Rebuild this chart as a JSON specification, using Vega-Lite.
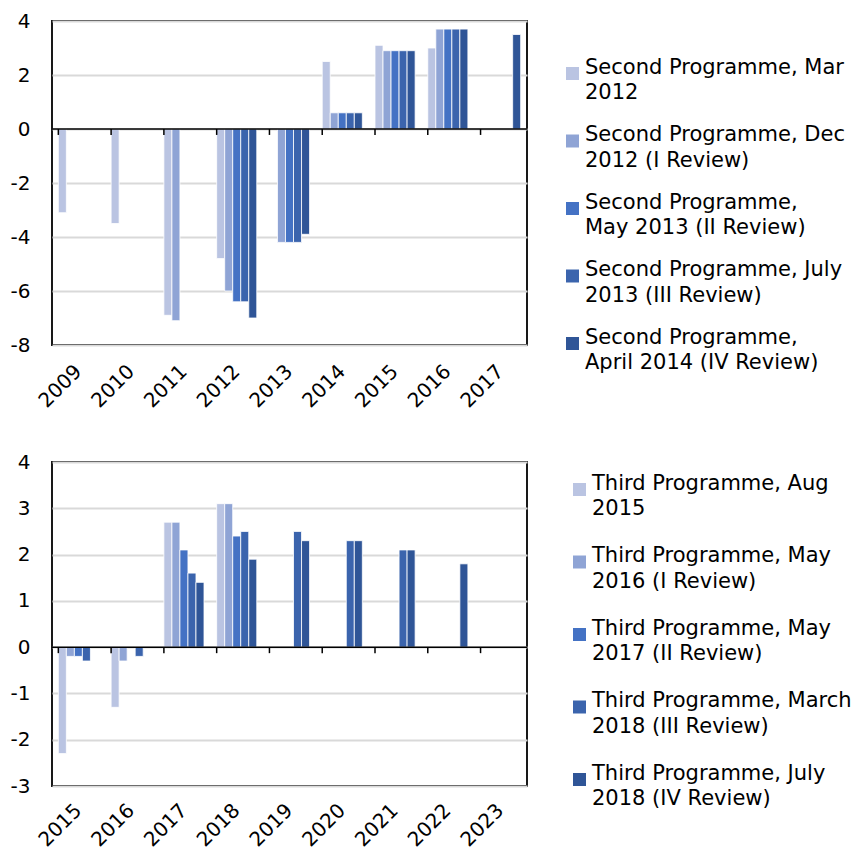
{
  "$schema": "https://vega.github.io/schema/vega-lite/v6.json",
  "autosize": {"type": "pad"},
  "padding": {"left": 9, "top": 10, "right": 0, "bottom": 0},
  "spacing": 39,
  "datasets": {
    "second": [
      {"year": "2009", "series": "Second Programme, Mar 2012", "value": -3.1},
      {"year": "2010", "series": "Second Programme, Mar 2012", "value": -3.5},
      {"year": "2011", "series": "Second Programme, Mar 2012", "value": -6.9},
      {"year": "2011", "series": "Second Programme, Dec 2012 (I Review)", "value": -7.1},
      {"year": "2012", "series": "Second Programme, Mar 2012", "value": -4.8},
      {"year": "2012", "series": "Second Programme, Dec 2012 (I Review)", "value": -6.0},
      {"year": "2012", "series": "Second Programme, May 2013 (II Review)", "value": -6.4},
      {"year": "2012", "series": "Second Programme, July 2013 (III Review)", "value": -6.4},
      {"year": "2012", "series": "Second Programme, April 2014 (IV Review)", "value": -7.0},
      {"year": "2013", "series": "Second Programme, Dec 2012 (I Review)", "value": -4.2},
      {"year": "2013", "series": "Second Programme, May 2013 (II Review)", "value": -4.2},
      {"year": "2013", "series": "Second Programme, July 2013 (III Review)", "value": -4.2},
      {"year": "2013", "series": "Second Programme, April 2014 (IV Review)", "value": -3.9},
      {"year": "2014", "series": "Second Programme, Mar 2012", "value": 2.5},
      {"year": "2014", "series": "Second Programme, Dec 2012 (I Review)", "value": 0.6},
      {"year": "2014", "series": "Second Programme, May 2013 (II Review)", "value": 0.6},
      {"year": "2014", "series": "Second Programme, July 2013 (III Review)", "value": 0.6},
      {"year": "2014", "series": "Second Programme, April 2014 (IV Review)", "value": 0.6},
      {"year": "2015", "series": "Second Programme, Mar 2012", "value": 3.1},
      {"year": "2015", "series": "Second Programme, Dec 2012 (I Review)", "value": 2.9},
      {"year": "2015", "series": "Second Programme, May 2013 (II Review)", "value": 2.9},
      {"year": "2015", "series": "Second Programme, July 2013 (III Review)", "value": 2.9},
      {"year": "2015", "series": "Second Programme, April 2014 (IV Review)", "value": 2.9},
      {"year": "2016", "series": "Second Programme, Mar 2012", "value": 3.0},
      {"year": "2016", "series": "Second Programme, Dec 2012 (I Review)", "value": 3.7},
      {"year": "2016", "series": "Second Programme, May 2013 (II Review)", "value": 3.7},
      {"year": "2016", "series": "Second Programme, July 2013 (III Review)", "value": 3.7},
      {"year": "2016", "series": "Second Programme, April 2014 (IV Review)", "value": 3.7},
      {"year": "2017", "series": "Second Programme, April 2014 (IV Review)", "value": 3.5}
    ],
    "third": [
      {"year": "2015", "series": "Third Programme, Aug 2015", "value": -2.3},
      {"year": "2015", "series": "Third Programme, May 2016 (I Review)", "value": -0.2},
      {"year": "2015", "series": "Third Programme, May 2017 (II Review)", "value": -0.2},
      {"year": "2015", "series": "Third Programme, March 2018 (III Review)", "value": -0.3},
      {"year": "2016", "series": "Third Programme, Aug 2015", "value": -1.3},
      {"year": "2016", "series": "Third Programme, May 2016 (I Review)", "value": -0.3},
      {"year": "2016", "series": "Third Programme, March 2018 (III Review)", "value": -0.2},
      {"year": "2017", "series": "Third Programme, Aug 2015", "value": 2.7},
      {"year": "2017", "series": "Third Programme, May 2016 (I Review)", "value": 2.7},
      {"year": "2017", "series": "Third Programme, May 2017 (II Review)", "value": 2.1},
      {"year": "2017", "series": "Third Programme, March 2018 (III Review)", "value": 1.6},
      {"year": "2017", "series": "Third Programme, July 2018 (IV Review)", "value": 1.4},
      {"year": "2018", "series": "Third Programme, Aug 2015", "value": 3.1},
      {"year": "2018", "series": "Third Programme, May 2016 (I Review)", "value": 3.1},
      {"year": "2018", "series": "Third Programme, May 2017 (II Review)", "value": 2.4},
      {"year": "2018", "series": "Third Programme, March 2018 (III Review)", "value": 2.5},
      {"year": "2018", "series": "Third Programme, July 2018 (IV Review)", "value": 1.9},
      {"year": "2019", "series": "Third Programme, March 2018 (III Review)", "value": 2.5},
      {"year": "2019", "series": "Third Programme, July 2018 (IV Review)", "value": 2.3},
      {"year": "2020", "series": "Third Programme, March 2018 (III Review)", "value": 2.3},
      {"year": "2020", "series": "Third Programme, July 2018 (IV Review)", "value": 2.3},
      {"year": "2021", "series": "Third Programme, March 2018 (III Review)", "value": 2.1},
      {"year": "2021", "series": "Third Programme, July 2018 (IV Review)", "value": 2.1},
      {"year": "2022", "series": "Third Programme, July 2018 (IV Review)", "value": 1.8}
    ],
    "years1": [
      {"year": "2009"}, {"year": "2010"}, {"year": "2011"}, {"year": "2012"}, {"year": "2013"},
      {"year": "2014"}, {"year": "2015"}, {"year": "2016"}, {"year": "2017"}
    ],
    "years2": [
      {"year": "2015"}, {"year": "2016"}, {"year": "2017"}, {"year": "2018"}, {"year": "2019"},
      {"year": "2020"}, {"year": "2021"}, {"year": "2022"}, {"year": "2023"}
    ],
    "zero": [{"zero": 0}]
  },
  "vconcat": [
    {
      "width": 475,
      "height": 324,
      "layer": [
        {
          "data": {"name": "second"},
          "mark": {"type": "bar", "stroke": "white", "strokeWidth": 0.8},
          "encoding": {
            "x": {
              "field": "year", "type": "ordinal",
              "scale": {"domain": ["2009","2010","2011","2012","2013","2014","2015","2016","2017"], "paddingInner": 0.24, "paddingOuter": 0.12},
              "axis": {"title": null, "labelAngle": -45, "labelAlign": "right", "labelBaseline": "middle", "ticks": false, "domain": false, "labelPadding": 23}
            },
            "xOffset": {
              "field": "series", "type": "nominal",
              "scale": {"domain": ["Second Programme, Mar 2012", "Second Programme, Dec 2012 (I Review)", "Second Programme, May 2013 (II Review)", "Second Programme, July 2013 (III Review)", "Second Programme, April 2014 (IV Review)"], "paddingInner": 0, "paddingOuter": 0}
            },
            "y": {
              "field": "value", "type": "quantitative",
              "scale": {"domain": [-8, 4], "nice": false, "zero": false},
              "axis": {"title": null, "values": [-8, -6, -4, -2, 0, 2, 4], "labelExpr": "'' + datum.value", "ticks": false, "domain": false, "labelPadding": 22}
            },
            "color": {
              "field": "series", "type": "nominal",
              "scale": {"domain": ["Second Programme, Mar 2012", "Second Programme, Dec 2012 (I Review)", "Second Programme, May 2013 (II Review)", "Second Programme, July 2013 (III Review)", "Second Programme, April 2014 (IV Review)"], "range": ["#bac4e2", "#8fa4d5", "#4472c4", "#3b64ad", "#2f5597"]},
              "legend": {
                "orient": "none", "legendX": 510, "legendY": 42,
                "rowPadding": 19.5,
                "labelExpr": "datum.label == 'Second Programme, Mar 2012' ? ['Second Programme, Mar', '2012'] : datum.label == 'Second Programme, Dec 2012 (I Review)' ? ['Second Programme, Dec', '2012 (I Review)'] : datum.label == 'Second Programme, May 2013 (II Review)' ? ['Second Programme,', 'May 2013 (II Review)'] : datum.label == 'Second Programme, July 2013 (III Review)' ? ['Second Programme, July', '2013 (III Review)'] : ['Second Programme,', 'April 2014 (IV Review)']"
              }
            }
          }
        },
        {
          "data": {"name": "years1"},
          "mark": {"type": "rule", "color": "black", "strokeWidth": 1.5},
          "encoding": {
            "x": {"field": "year", "type": "ordinal", "bandPosition": 0},
            "y": {"datum": 0},
            "y2": {"datum": -0.22}
          }
        },
        {
          "data": {"name": "zero"},
          "mark": {"type": "rule", "color": "black", "strokeWidth": 1.5},
          "encoding": {"y": {"field": "zero", "type": "quantitative"}}
        }
      ]
    },
    {
      "width": 475,
      "height": 324,
      "layer": [
        {
          "data": {"name": "third"},
          "mark": {"type": "bar", "stroke": "white", "strokeWidth": 0.8},
          "encoding": {
            "x": {
              "field": "year", "type": "ordinal",
              "scale": {"domain": ["2015","2016","2017","2018","2019","2020","2021","2022","2023"], "paddingInner": 0.24, "paddingOuter": 0.12},
              "axis": {"title": null, "labelAngle": -45, "labelAlign": "right", "labelBaseline": "middle", "ticks": false, "domain": false, "labelPadding": 21}
            },
            "xOffset": {
              "field": "series", "type": "nominal",
              "scale": {"domain": ["Third Programme, Aug 2015", "Third Programme, May 2016 (I Review)", "Third Programme, May 2017 (II Review)", "Third Programme, March 2018 (III Review)", "Third Programme, July 2018 (IV Review)"], "paddingInner": 0, "paddingOuter": 0}
            },
            "y": {
              "field": "value", "type": "quantitative",
              "scale": {"domain": [-3, 4], "nice": false, "zero": false},
              "axis": {"title": null, "values": [-3, -2, -1, 0, 1, 2, 3, 4], "labelExpr": "'' + datum.value", "ticks": false, "domain": false, "labelPadding": 22}
            },
            "color": {
              "field": "series", "type": "nominal",
              "scale": {"domain": ["Third Programme, Aug 2015", "Third Programme, May 2016 (I Review)", "Third Programme, May 2017 (II Review)", "Third Programme, March 2018 (III Review)", "Third Programme, July 2018 (IV Review)"], "range": ["#bac4e2", "#8fa4d5", "#4472c4", "#3b64ad", "#2f5597"]},
              "legend": {
                "orient": "none", "legendX": 517, "legendY": 17,
                "rowPadding": 24.5,
                "labelExpr": "datum.label == 'Third Programme, Aug 2015' ? ['Third Programme, Aug', '2015'] : datum.label == 'Third Programme, May 2016 (I Review)' ? ['Third Programme, May', '2016 (I Review)'] : datum.label == 'Third Programme, May 2017 (II Review)' ? ['Third Programme, May', '2017 (II Review)'] : datum.label == 'Third Programme, March 2018 (III Review)' ? ['Third Programme, March', '2018 (III Review)'] : ['Third Programme, July', '2018 (IV Review)']"
              }
            }
          }
        },
        {
          "data": {"name": "years2"},
          "mark": {"type": "rule", "color": "black", "strokeWidth": 1.5},
          "encoding": {
            "x": {"field": "year", "type": "ordinal", "bandPosition": 0},
            "y": {"datum": 0},
            "y2": {"datum": -0.13}
          }
        },
        {
          "data": {"name": "zero"},
          "mark": {"type": "rule", "color": "black", "strokeWidth": 1.5},
          "encoding": {"y": {"field": "zero", "type": "quantitative"}}
        }
      ]
    }
  ],
  "resolve": {
    "scale": {"x": "independent", "y": "independent", "xOffset": "independent", "color": "independent"},
    "legend": {"color": "independent"}
  },
  "config": {
    "font": "DejaVu Sans",
    "view": {"stroke": "black", "strokeWidth": 1.8},
    "axis": {
      "labelFont": "DejaVu Sans", "labelFontSize": 20, "labelColor": "#000000",
      "gridColor": "#d9d9d9", "gridWidth": 1.8
    },
    "axisX": {"grid": false},
    "legend": {
      "title": null,
      "labelFont": "DejaVu Sans", "labelFontSize": 21, "labelColor": "#000000",
      "labelLimit": 400, "labelOffset": 2, "labelBaseline": "alphabetic",
      "symbolType": "square", "symbolSize": 169, "symbolStrokeWidth": 0,
      "padding": 0
    },
    "style": {"guide-label": {"lineHeight": 25.7}}
  }
}
